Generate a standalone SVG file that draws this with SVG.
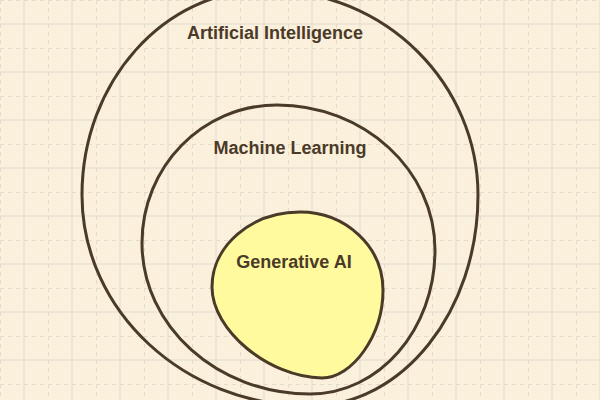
<svg xmlns="http://www.w3.org/2000/svg" width="600" height="400" viewBox="0 0 600 400">
  <defs>
    <pattern id="grid" x="0" y="0" width="48" height="48" patternUnits="userSpaceOnUse">
      <path d="M24 0V48M0 24H48" stroke="#e0dbd0" stroke-width="1" fill="none"/>
      <path d="M0.5 0V48M0 0.5H48" stroke="#e3dbcc" stroke-width="1" stroke-dasharray="4 4" fill="none"/>
    </pattern>
  </defs>
  <style>
    .ring { fill: none; stroke: #4a3a28; stroke-width: 3; }
    .core { fill: #fffa9e; stroke: #4a3a28; stroke-width: 3; }
    .label { font-family: "Liberation Sans", Arial, sans-serif; font-weight: bold; font-size: 18px; fill: #4a3a28; text-anchor: middle; }
  </style>
  <rect width="600" height="400" fill="#fbf0dc"/>
  <rect width="600" height="400" fill="url(#grid)"/>
  <g id="ai">
    <path class="ring" d="M82 195 C82 82 164 -10 265 -10 C388 -10 478 86 478 195 C478 311 403 406 310 406 C184 406 82 311 82 195 Z"/>
    <text class="label" x="275" y="39">Artificial Intelligence</text>
  </g>
  <g id="ml">
    <path class="ring" d="M142 243 C142 167 202 105 277 105 C364 105 435 170 435 250 C435 330 379 394 310 394 C217 394 142 326 142 243 Z"/>
    <text class="label" x="290" y="154">Machine Learning</text>
  </g>
  <g id="genai">
    <path class="core" d="M212 287 C212 246 251 212 300 212 C346 212 383 247 383 290 C383 336 352 378 322 378 C268 377 212 330 212 287 Z"/>
    <text class="label" x="294" y="268">Generative AI</text>
  </g>
  <g id="connectors"/>
</svg>
